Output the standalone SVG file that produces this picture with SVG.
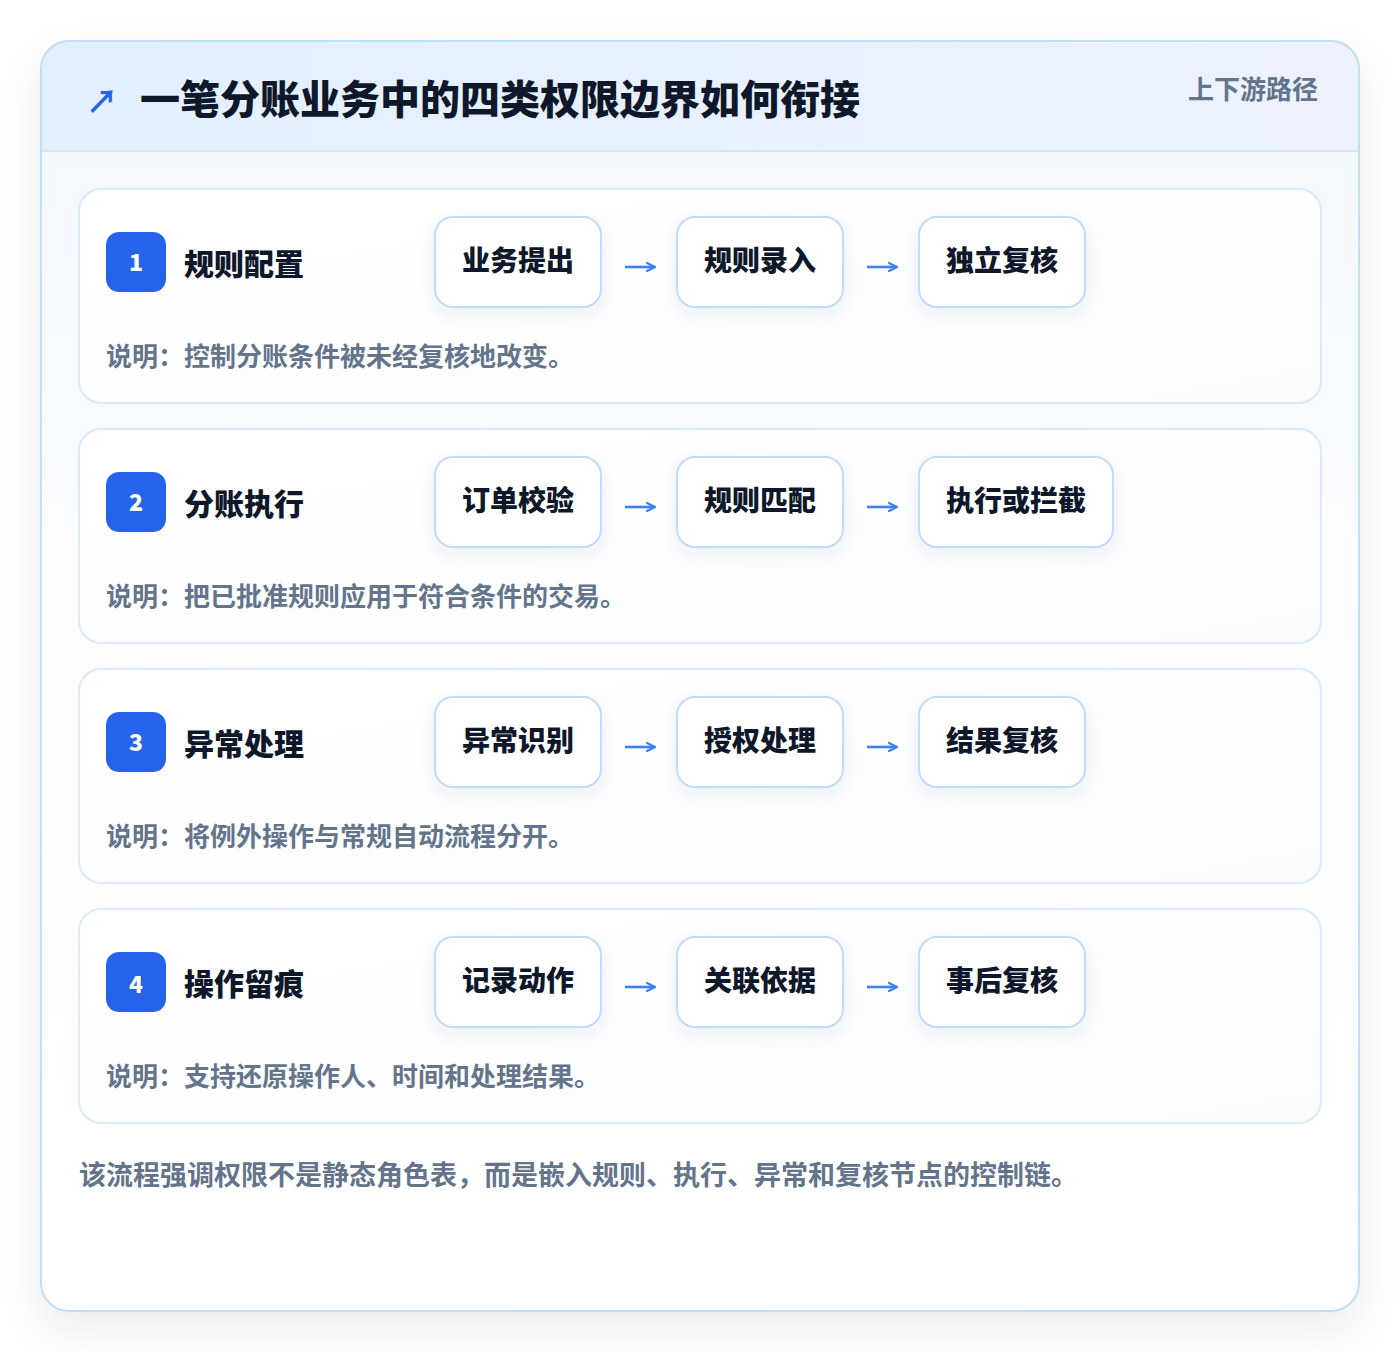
<svg xmlns="http://www.w3.org/2000/svg" width="1400" height="1352" viewBox="0 0 1400 1352">
<defs>
<filter id="sh" x="-10%" y="-10%" width="120%" height="125%"><feDropShadow dx="0" dy="18" stdDeviation="20" flood-color="#0f172a" flood-opacity="0.08"/></filter>
<filter id="sh2" x="-20%" y="-20%" width="140%" height="150%"><feDropShadow dx="0" dy="6" stdDeviation="8" flood-color="#1e3a8a" flood-opacity="0.07"/></filter>
<linearGradient id="hdr" x1="0" y1="0" x2="1" y2="0"><stop offset="0" stop-color="#e2f0fd"/><stop offset="1" stop-color="#edf2fe"/></linearGradient>
<linearGradient id="body" x1="0" y1="0" x2="0" y2="1"><stop offset="0" stop-color="#f2f8fe"/><stop offset="0.4" stop-color="#fbfdff"/><stop offset="1" stop-color="#ffffff"/></linearGradient>
<linearGradient id="sec" x1="0" y1="0" x2="1" y2="1"><stop offset="0" stop-color="#ffffff"/><stop offset="1" stop-color="#fafcfe"/></linearGradient>
<clipPath id="cardclip"><rect x="41" y="41" width="1318" height="1270" rx="28"/></clipPath>
<marker id="ah" viewBox="0 0 10 10" refX="9" refY="5" markerWidth="10" markerHeight="10" markerUnits="userSpaceOnUse" orient="auto"><path d="M1,1 L9,5 L1,9" fill="none" stroke="#3b82f6" stroke-width="2.2" stroke-linecap="round" stroke-linejoin="round"/></marker>
</defs>
<style>
text{font-family:"Noto Sans CJK SC","Noto Sans",sans-serif;font-weight:700}
.title{font-size:40px;fill:#0f172a;font-weight:900}
.tag{font-size:26px;fill:#64748b}
.sec{fill:url(#sec);stroke:#dbeafe;stroke-width:2}
.badge{fill:#2563eb}
.num{font-size:23px;fill:#ffffff;text-anchor:middle;font-weight:900}
.stitle{font-size:30px;fill:#0f172a;font-weight:800}
.step{fill:#ffffff;stroke:#bfdbfe;stroke-width:2}
.stext{font-size:28px;fill:#0f172a;text-anchor:middle;font-weight:800}
.arr{fill:none;stroke:#3b82f6;stroke-width:2.6;marker-end:url(#ah)}
.desc{font-size:26px;fill:#64748b}
.foot{font-size:27px;fill:#64748b}
</style>
<rect width="1400" height="1352" fill="#ffffff"/>
<g id="card">
<rect x="41" y="41" width="1318" height="1270" rx="28" fill="url(#body)" filter="url(#sh)"/>
<g clip-path="url(#cardclip)">
<rect x="41" y="41" width="1318" height="110" fill="url(#hdr)"/>
<line x1="41" y1="151" x2="1359" y2="151" stroke="#d6e8f8" stroke-width="2"/>
</g>
<rect x="41" y="41" width="1318" height="1270" rx="28" fill="none" stroke="#bfe0f5" stroke-width="2"/>
<text x="86" y="113" font-size="32" fill="#2563eb">↗</text>
<text class="title" x="140" y="114">一笔分账业务中的四类权限边界如何衔接</text>
<text class="tag" x="1318" y="99" text-anchor="end">上下游路径</text>
</g>
<g id="section1">
<rect class="sec" x="79" y="189" width="1242" height="214" rx="22"/>
<rect class="badge" x="106" y="232" width="60" height="60" rx="13"/>
<text class="num" x="136" y="271">1</text>
<text class="stitle" x="184" y="275">规则配置</text>
<g id="s1a"><rect class="step" x="435" y="217" width="166" height="90" rx="18" filter="url(#sh2)"/><text class="stext" x="518" y="271">业务提出</text></g>
<g id="s1b"><rect class="step" x="677" y="217" width="166" height="90" rx="18" filter="url(#sh2)"/><text class="stext" x="760" y="271">规则录入</text></g>
<g id="s1c"><rect class="step" x="919" y="217" width="166" height="90" rx="18" filter="url(#sh2)"/><text class="stext" x="1002" y="271">独立复核</text></g>
<text class="desc" x="106" y="366">说明：控制分账条件被未经复核地改变。</text>
</g>
<g id="section2">
<rect class="sec" x="79" y="429" width="1242" height="214" rx="22"/>
<rect class="badge" x="106" y="472" width="60" height="60" rx="13"/>
<text class="num" x="136" y="511">2</text>
<text class="stitle" x="184" y="515">分账执行</text>
<g id="s2a"><rect class="step" x="435" y="457" width="166" height="90" rx="18" filter="url(#sh2)"/><text class="stext" x="518" y="511">订单校验</text></g>
<g id="s2b"><rect class="step" x="677" y="457" width="166" height="90" rx="18" filter="url(#sh2)"/><text class="stext" x="760" y="511">规则匹配</text></g>
<g id="s2c"><rect class="step" x="919" y="457" width="194" height="90" rx="18" filter="url(#sh2)"/><text class="stext" x="1016" y="511">执行或拦截</text></g>
<text class="desc" x="106" y="606">说明：把已批准规则应用于符合条件的交易。</text>
</g>
<g id="section3">
<rect class="sec" x="79" y="669" width="1242" height="214" rx="22"/>
<rect class="badge" x="106" y="712" width="60" height="60" rx="13"/>
<text class="num" x="136" y="751">3</text>
<text class="stitle" x="184" y="755">异常处理</text>
<g id="s3a"><rect class="step" x="435" y="697" width="166" height="90" rx="18" filter="url(#sh2)"/><text class="stext" x="518" y="751">异常识别</text></g>
<g id="s3b"><rect class="step" x="677" y="697" width="166" height="90" rx="18" filter="url(#sh2)"/><text class="stext" x="760" y="751">授权处理</text></g>
<g id="s3c"><rect class="step" x="919" y="697" width="166" height="90" rx="18" filter="url(#sh2)"/><text class="stext" x="1002" y="751">结果复核</text></g>
<text class="desc" x="106" y="846">说明：将例外操作与常规自动流程分开。</text>
</g>
<g id="section4">
<rect class="sec" x="79" y="909" width="1242" height="214" rx="22"/>
<rect class="badge" x="106" y="952" width="60" height="60" rx="13"/>
<text class="num" x="136" y="993">4</text>
<text class="stitle" x="184" y="995">操作留痕</text>
<g id="s4a"><rect class="step" x="435" y="937" width="166" height="90" rx="18" filter="url(#sh2)"/><text class="stext" x="518" y="991">记录动作</text></g>
<g id="s4b"><rect class="step" x="677" y="937" width="166" height="90" rx="18" filter="url(#sh2)"/><text class="stext" x="760" y="991">关联依据</text></g>
<g id="s4c"><rect class="step" x="919" y="937" width="166" height="90" rx="18" filter="url(#sh2)"/><text class="stext" x="1002" y="991">事后复核</text></g>
<text class="desc" x="106" y="1086">说明：支持还原操作人、时间和处理结果。</text>
</g>
<g id="connectors">
<path class="arr" d="M625,267 H655"/><path class="arr" d="M867,267 H897"/>
<path class="arr" d="M625,507 H655"/><path class="arr" d="M867,507 H897"/>
<path class="arr" d="M625,747 H655"/><path class="arr" d="M867,747 H897"/>
<path class="arr" d="M625,987 H655"/><path class="arr" d="M867,987 H897"/>
</g>
<text class="foot" x="79" y="1185">该流程强调权限不是静态角色表，而是嵌入规则、执行、异常和复核节点的控制链。</text>
</svg>
